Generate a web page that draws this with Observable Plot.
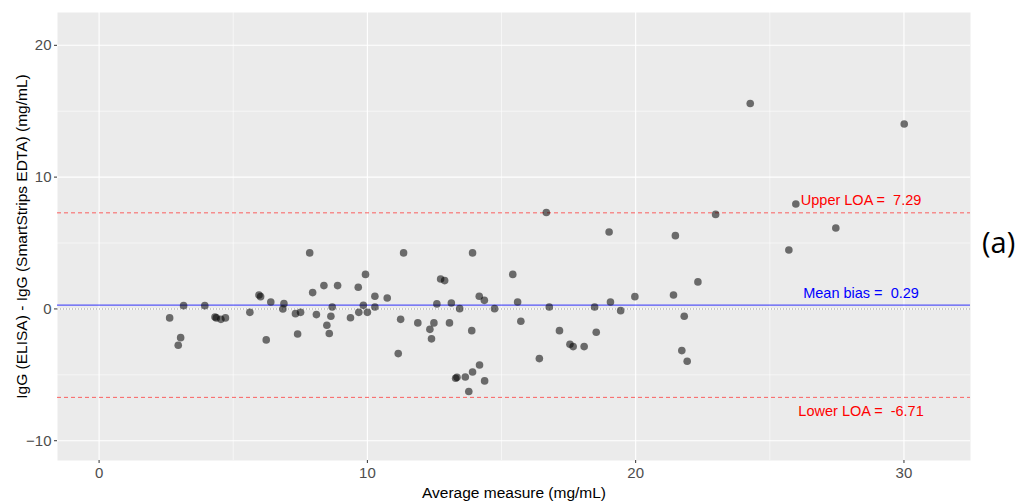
<!DOCTYPE html>
<html>
<head>
<meta charset="utf-8">
<script src="https://cdn.jsdelivr.net/npm/d3@7"></script>
<script src="https://cdn.jsdelivr.net/npm/@observablehq/plot@0.6"></script>
<style>
  body { margin: 0; background: #fff; }
  #wrap { position: relative; width: 1023px; height: 502px; }
  #tag { position: absolute; left: 982px; top: 222px; font-family: "Open Sans", "Liberation Sans", sans-serif; font-size: 29px; color: #000; }
  #chart g[aria-label="x-axis label"] text, #chart g[aria-label="y-axis label"] text { font-size: 15.5px; fill: #000; }
</style>
</head>
<body>
<div id="wrap"><div id="chart"></div><div id="tag">(a)</div></div>
<script>
// Average measure (mg/mL)
const avg = [2.63,2.95,3.04,3.15,3.94,4.32,4.37,4.54,4.71,5.62,5.96,6.02,6.23,6.40,6.85,6.89,7.32,7.40,7.51,7.85,
  7.96,8.10,8.38,8.49,8.58,8.64,8.69,8.89,9.37,9.66,9.68,9.85,9.93,10.00,10.28,10.28,10.74,11.15,11.24,11.35,
  11.88,12.33,12.39,12.48,12.59,12.73,12.88,13.06,13.13,13.29,13.34,13.44,13.65,13.78,13.89,13.92,13.92,14.17,14.18,14.36,
  14.37,14.74,15.42,15.60,15.72,16.41,16.67,16.78,17.16,17.55,17.67,18.08,18.47,18.53,19.01,19.06,19.44,19.97,21.41,21.48,
  21.72,21.81,21.92,22.32,22.98,24.27,25.71,25.97,27.46,30.01];
// Difference IgG (ELISA) - IgG (SmartStrips EDTA)
const diff = [-0.68,-2.76,-2.18,0.25,0.25,-0.61,-0.68,-0.79,-0.68,-0.26,1.06,0.93,-2.35,0.53,0.00,0.40,-0.36,-1.90,-0.26,4.25,
  1.24,-0.43,1.77,-1.24,-1.87,-0.56,0.15,1.77,-0.67,1.64,-0.26,0.27,2.62,-0.26,0.96,0.15,0.83,-3.39,-0.79,4.25,
  -1.06,-1.55,-2.27,-1.06,0.38,2.27,2.15,-1.06,0.45,-5.26,-5.19,0.02,-5.16,-6.27,-1.65,4.25,-4.78,0.96,-4.25,0.65,
  -5.46,0.02,2.62,0.53,-0.94,-3.77,7.32,0.15,-1.65,-2.68,-2.86,-2.86,0.15,-1.77,5.84,0.53,-0.13,0.93,1.06,5.56,
  -3.16,-0.56,-3.97,2.05,7.17,15.59,4.47,7.96,6.14,14.03];

const meanBias = 0.29, upperLOA = 7.29, lowerLOA = -6.71;
const labelTexts = ["Upper LOA =\u00A0\u00A07.29", "Mean bias =\u00A0\u00A00.29", "Lower LOA =\u00A0\u00A0-6.71"];
const labelX = [28.4, 28.4, 28.4];
const labelY = [8.2, 1.15, -7.8];
const labelColors = ["#FF0000", "#0000FF", "#FF0000"];

const xTicks = [0, 10, 20, 30];
const yTicks = [-10, 0, 10, 20];
const xMinor = [5, 15, 25];
const yMinor = [-5, 5, 15];

const points = avg.map((x, i) => ({x, y: diff[i]}));
const labels = labelTexts.map((t, i) => ({t, x: labelX[i], y: labelY[i], c: labelColors[i]}));

const chart = Plot.plot({
  width: 1023,
  height: 502,
  marginLeft: 57,
  marginRight: 53,
  marginTop: 12,
  marginBottom: 42,
  style: {fontFamily: "'Liberation Sans', Arial, sans-serif", background: "#fff"},
  x: {domain: [-1.55, 32.48]},
  y: {domain: [-11.5, 22.49]},
  marks: [
    Plot.frame({fill: "#EBEBEB", stroke: "none"}),
    Plot.gridX(xMinor, {stroke: "#fff", strokeOpacity: 1, strokeWidth: 0.55}),
    Plot.gridY(yMinor, {stroke: "#fff", strokeOpacity: 1, strokeWidth: 0.55}),
    Plot.gridX(xTicks, {stroke: "#fff", strokeOpacity: 1, strokeWidth: 1.1}),
    Plot.gridY(yTicks, {stroke: "#fff", strokeOpacity: 1, strokeWidth: 1.1}),
    Plot.ruleY([0], {stroke: "#9a9a9a", strokeWidth: 1.1, strokeDasharray: "1,2"}),
    Plot.ruleY([meanBias], {stroke: "#0000FF", strokeWidth: 1, strokeOpacity: 0.8}),
    Plot.ruleY([upperLOA, lowerLOA], {stroke: "#FF3030", strokeWidth: 1, strokeOpacity: 0.75, strokeDasharray: "4,3"}),
    Plot.dot(points, {x: "x", y: "y", r: 3.8, fill: "#000", fillOpacity: 0.55, stroke: "none"}),
    Plot.text(labels, {x: "x", y: "y", text: "t", fill: "c", fontSize: 14.5, textAnchor: "middle"}),
    Plot.axisX(xTicks, {tickSize: 3, stroke: "#333", color: "#4D4D4D", fontSize: 15, tickPadding: 4,
      label: "Average measure (mg/mL)", labelAnchor: "center", labelArrow: "none", labelOffset: 37}),
    Plot.axisY(yTicks, {tickSize: 3, stroke: "#333", color: "#4D4D4D", fontSize: 15, tickPadding: 3,
      label: "IgG (ELISA) - IgG (SmartStrips EDTA) (mg/mL)", labelAnchor: "center", labelArrow: "none", labelOffset: 42})
  ]
});
document.getElementById("chart").appendChild(chart);
</script>
</body>
</html>
